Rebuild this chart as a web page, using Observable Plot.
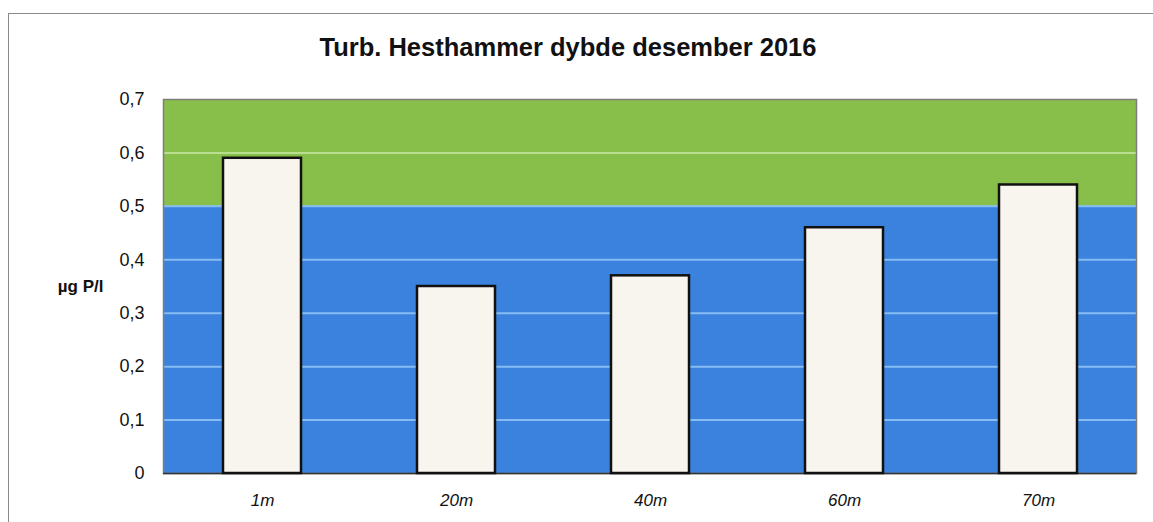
<!DOCTYPE html>
<html><head><meta charset="utf-8">
<script src="https://cdn.jsdelivr.net/npm/d3@7"></script>
<script src="https://cdn.jsdelivr.net/npm/@observablehq/plot@0.6"></script>
<style>
body{margin:0;background:#fff;}
#wrap{position:relative;width:1153px;height:522px;overflow:hidden;font-family:"Liberation Sans",Arial,sans-serif;}
#frame{position:absolute;left:8px;top:13px;width:1170px;height:600px;border:1.5px solid #8a8a8a;box-sizing:border-box;}
#chart{position:absolute;left:0;top:0;}
</style>
</head><body>
<div id="wrap"><div id="frame"></div><div id="chart"></div></div>
<script>
const title = "Turb. Hesthammer dybde desember 2016";
const yLabel = "µg P/l";
const depths = ["1m", "20m", "40m", "60m", "70m"];
const values = [0.59, 0.35, 0.37, 0.46, 0.54];
const yTicks = [0, 0.1, 0.2, 0.3, 0.4, 0.5, 0.6, 0.7];
const zoneStart = [0, 0.5];
const zoneEnd = [0.5, 0.7];
const zoneColor = ["#3a82dd", "#88bf4a"];
const gridBlue = [0.1, 0.2, 0.3, 0.4, 0.5];
const gridGreen = [0.6];

const bars = depths.map((d, i) => ({depth: d, value: values[i]}));
const zones = zoneStart.map((s, i) => ({y1: s, y2: zoneEnd[i], fill: zoneColor[i]}));
const fmt = v => v === 0 ? "0" : d3.format(".1f")(v).replace(".", ",");

const chart = Plot.plot({
  width: 1153,
  height: 522,
  marginLeft: 163,
  marginRight: 17,
  marginTop: 99,
  marginBottom: 49,
  style: {fontFamily: "'Liberation Sans', Arial, sans-serif", background: "transparent", color: "#111"},
  x: {domain: depths, paddingInner: 0.6, paddingOuter: 0.3, label: null},
  y: {domain: [0, 0.7], label: null},
  marks: [
    Plot.rectY(zones, {y1: "y1", y2: "y2", fill: "fill"}),
    Plot.ruleY(gridBlue, {stroke: "#86bcf3", strokeWidth: 2}),
    Plot.ruleY(gridGreen, {stroke: "#b9de90", strokeWidth: 2}),
    Plot.frame({stroke: "#7d7d7d", strokeWidth: 1.5}),
    Plot.ruleY([0], {stroke: "#333", strokeWidth: 1.5}),
    Plot.barY(bars, {x: "depth", y: "value", fill: "#f8f5ef", stroke: "#111", strokeWidth: 2.5}),
    Plot.axisY({ticks: yTicks, tickFormat: fmt, tickSize: 0, tickPadding: 19, fontSize: 18, label: null}),
    Plot.axisX({tickSize: 0, tickPadding: 20, fontSize: 17, fontStyle: "italic", label: null}),
    Plot.text([yLabel], {frameAnchor: "left", dx: -60, textAnchor: "end", fontSize: 17, fontWeight: "bold"}),
    Plot.text([title], {frameAnchor: "top", dx: -82, dy: -52, lineAnchor: "middle", fontSize: 25.5, fontWeight: "bold"})
  ]
});
document.getElementById("chart").appendChild(chart);
</script>
</body></html>
